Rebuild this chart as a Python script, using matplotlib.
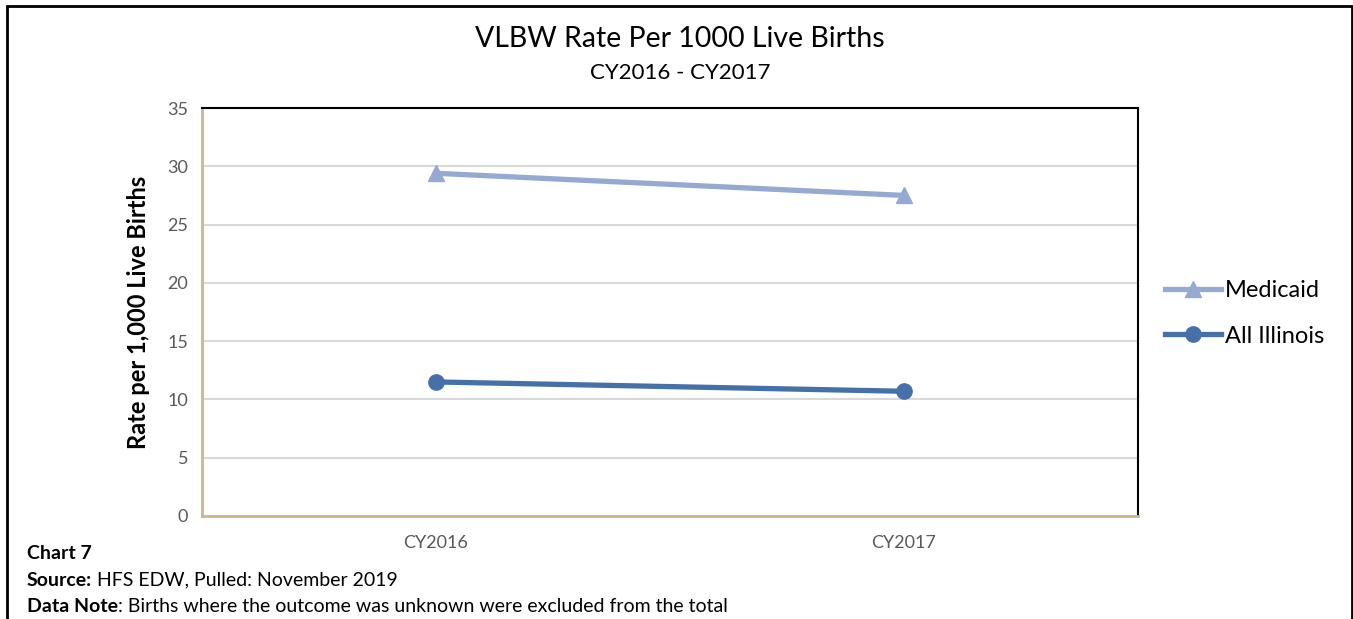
import matplotlib.pyplot as plt
from matplotlib.patches import Rectangle
from matplotlib.lines import Line2D

plt.rcParams['font.family'] = ['Lato', 'DejaVu Sans']

years = ['CY2016', 'CY2017']
medicaid = [29.4, 27.5]
all_illinois = [11.5, 10.7]
yticks = [0, 5, 10, 15, 20, 25, 30, 35]

fig = plt.figure(figsize=(13.53, 6.19), dpi=100)
ax = fig.add_axes([0.1493, 0.1664, 0.6918, 0.6591])

x = range(len(years))
ax.plot(x, medicaid, color='#95a9d2', lw=3.8, marker='^', ms=11, label='Medicaid')
ax.plot(x, all_illinois, color='#4570a8', lw=3.8, marker='o', ms=11, label='All Illinois')

ax.set_xlim(-0.5, 1.5)
ax.set_ylim(0, 35)
ax.set_yticks(yticks)
ax.set_xticks(list(x))
ax.set_xticklabels(years)
ax.tick_params(axis='both', length=0, labelsize=13, colors='#595959', pad=10)
ax.tick_params(axis='x', pad=14)
ax.grid(axis='y', color='#d9d9d9', lw=1.5)
ax.set_axisbelow(True)
for s in ['top', 'right']:
    ax.spines[s].set_color('black')
    ax.spines[s].set_linewidth(1.5)
for s in ['left', 'bottom']:
    ax.spines[s].set_color('#c4b98f')
    ax.spines[s].set_linewidth(2)

ax.set_ylabel('Rate per 1,000 Live Births', fontsize=17, fontweight='bold', labelpad=12)

fig.text(0.5025, 0.937, 'VLBW Rate Per 1000 Live Births', ha='center', va='center', fontsize=20.5)
fig.text(0.5025, 0.882, 'CY2016 - CY2017', ha='center', va='center', fontsize=16)

handles = [Line2D([0], [0], color='#95a9d2', lw=3.8, marker='^', ms=11),
           Line2D([0], [0], color='#4570a8', lw=3.8, marker='o', ms=11)]
fig.legend(handles, ['Medicaid', 'All Illinois'], loc='center left',
           bbox_to_anchor=(0.845, 0.494), frameon=False, fontsize=17,
           handlelength=2.4, handletextpad=0.15, labelspacing=1.05)

# footer: bold lead then normal text right after it
fig.canvas.draw()
r = fig.canvas.get_renderer()
def footer(y, bold, rest):
    t = fig.text(0.02, y, bold, fontsize=14, fontweight='bold', va='center')
    if rest:
        w = t.get_window_extent(r).width / fig.bbox.width
        fig.text(0.02 + w, y, rest, fontsize=14, va='center')

footer(0.106, 'Chart 7', '')
footer(0.063, 'Source:', ' HFS EDW, Pulled: November 2019')
footer(0.020, 'Data Note', ': Births where the outcome was unknown were excluded from the total')

fig.patches.append(Rectangle((0.0055, -0.05), 0.9935, 1.04, transform=fig.transFigure,
                             fill=False, ec='black', lw=2))

fig.savefig('out.png', dpi=100)
